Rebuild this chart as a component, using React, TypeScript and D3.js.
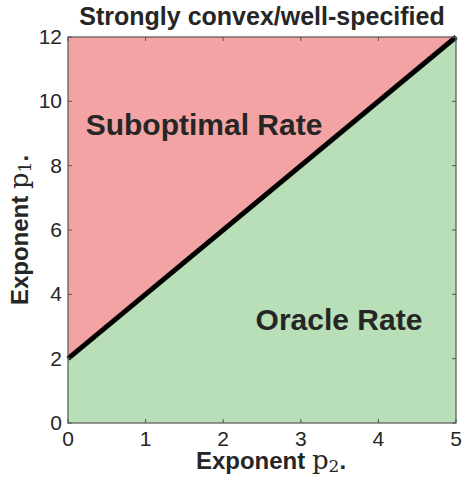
import * as d3 from "d3";

const xTicks = [0, 1, 2, 3, 4, 5];
const yTicks = [0, 2, 4, 6, 8, 10, 12];
// boundary p1 = 2 p2 + 2, read at the ends
const boundaryX = [0, 5];
const boundaryY = [2, 12];

const W = 464;
const H = 477;
const margin = { top: 37, right: 8, bottom: 54, left: 68 };

export default function App() {
  const x = d3.scaleLinear().domain([0, 5]).range([margin.left, W - margin.right]);
  const y = d3.scaleLinear().domain([0, 12]).range([H - margin.bottom, margin.top]);
  const pts = boundaryX.map((v, i) => [v, boundaryY[i]] as [number, number]);
  const line = d3.line<[number, number]>().x(d => x(d[0])).y(d => y(d[1]));

  const upper: [number, number][] = [[0, 12], ...pts];
  const lower: [number, number][] = [[0, 0], ...pts, [5, 0]];
  const axisColor = "#555";
  const ink = "#262626";
  const font = "Liberation Sans, Arial, sans-serif";
  const serif = "DejaVu Serif, serif";
  const cx = (x(0) + x(5)) / 2;

  return (
    <svg width={W} height={H} style={{ position: "absolute", left: 0, top: 0 }} fontFamily={font}>
      <rect width={W} height={H} fill="#fff" />
      <path d={line(upper) + "Z"} fill="#f4a3a4" />
      <path d={line(lower) + "Z"} fill="#b9dfb8" />
      <path d={line(pts) || ""} stroke="#000" strokeWidth={5} fill="none" />
      <rect x={x(0)} y={y(12)} width={x(5) - x(0)} height={y(0) - y(12)} fill="none" stroke={axisColor} strokeWidth={1.2} />
      {xTicks.map(t => (
        <g key={"x" + t}>
          <line x1={x(t)} x2={x(t)} y1={y(0)} y2={y(0) - 4} stroke={axisColor} />
          <line x1={x(t)} x2={x(t)} y1={y(12)} y2={y(12) + 4} stroke={axisColor} />
          <text x={x(t)} y={y(0) + 23} textAnchor="middle" fontSize={21} fill={ink}>{t}</text>
        </g>
      ))}
      {yTicks.map(t => (
        <g key={"y" + t}>
          <line x1={x(0)} x2={x(0) + 4} y1={y(t)} y2={y(t)} stroke={axisColor} />
          <line x1={x(5)} x2={x(5) - 4} y1={y(t)} y2={y(t)} stroke={axisColor} />
          <text x={x(0) - 6} y={y(t) + 7} textAnchor="end" fontSize={21} fill={ink}>{t}</text>
        </g>
      ))}
      <text x={cx} y={25} textAnchor="middle" fontSize={25} fontWeight="bold" fill={ink}>
        Strongly convex/well-specified
      </text>
      <text x={271} y={469} textAnchor="middle" fontSize={24} fontWeight="bold" fill={ink}>
        Exponent <tspan fontFamily={serif} fontWeight="normal" fontSize={26}>p</tspan>
        <tspan fontFamily={serif} fontWeight="normal" fontSize={17} dy={3}>2</tspan>
        <tspan dy={-3}>.</tspan>
      </text>
      <text transform={`translate(28,230) rotate(-90)`} textAnchor="middle" fontSize={24} fontWeight="bold" fill={ink}>
        Exponent <tspan fontFamily={serif} fontWeight="normal" fontSize={26}>p</tspan>
        <tspan fontFamily={serif} fontWeight="normal" fontSize={17} dy={3}>1</tspan>
        <tspan dy={-3}>.</tspan>
      </text>
      <text x={204} y={135} textAnchor="middle" fontSize={30} fontWeight="bold" fill={ink}>Suboptimal Rate</text>
      <text x={339} y={330} textAnchor="middle" fontSize={30} fontWeight="bold" fill={ink}>Oracle Rate</text>
    </svg>
  );
}
